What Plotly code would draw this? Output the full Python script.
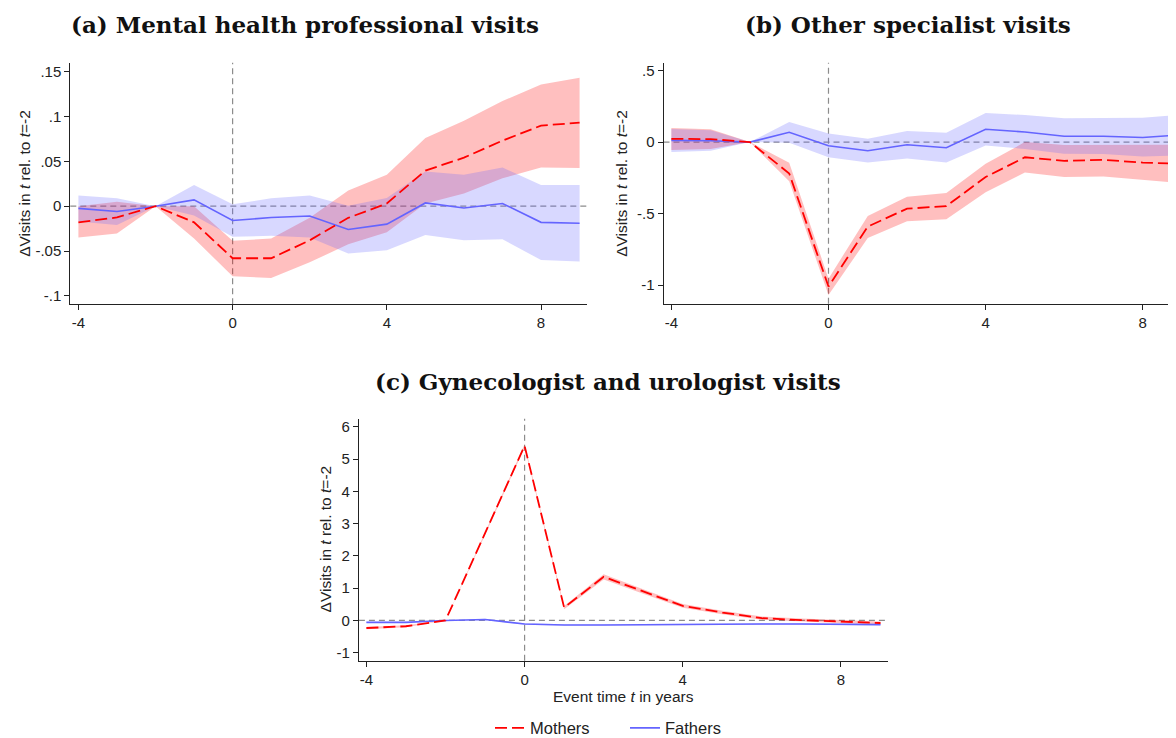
import plotly.graph_objects as go

W, H = 1176, 738

t = [-4, -3, -2, -1, 0, 1, 2, 3, 4, 5, 6, 7, 8, 9]

# Panel (a): Mental health professional visits
a_m = [-0.018, -0.0125, 0.0, -0.018, -0.058, -0.058, -0.038, -0.013, 0.003, 0.0396, 0.054, 0.073, 0.0897, 0.093]
a_m_lo = [-0.035, -0.0305, 0.0, -0.036, -0.078, -0.080, -0.0625, -0.0425, -0.029, 0.003, 0.014, 0.031, 0.043, 0.0425]
a_m_hi = [0.0, 0.005, 0.0, 0.0, -0.0385, -0.036, -0.013, 0.0174, 0.035, 0.076, 0.095, 0.117, 0.1355, 0.143]
a_f = [-0.0025, -0.006, 0.0, 0.007, -0.016, -0.0127, -0.011, -0.026, -0.020, 0.0036, -0.002, 0.003, -0.018, -0.019]
a_f_lo = [-0.017, -0.021, 0.0, -0.0105, -0.034, -0.033, -0.035, -0.0527, -0.049, -0.032, -0.038, -0.0367, -0.060, -0.0617]
a_f_hi = [0.012, 0.0087, 0.0, 0.0236, 0.002, 0.0087, 0.012, 0.0004, 0.009, 0.0385, 0.035, 0.043, 0.0236, 0.0236]

# Panel (b): Other specialist visits
b_m = [0.023, 0.021, 0.0, -0.219, -1.009, -0.59, -0.465, -0.447, -0.244, -0.106, -0.131, -0.124, -0.143, -0.152]
b_m_lo = [-0.055, -0.048, 0.0, -0.274, -1.069, -0.67, -0.553, -0.539, -0.35, -0.212, -0.244, -0.24, -0.263, -0.286]
b_m_hi = [0.099, 0.09, 0.0, -0.145, -0.954, -0.516, -0.382, -0.355, -0.152, 0.0, -0.02, -0.02, -0.023, -0.018]
b_f = [0.012, 0.009, 0.0, 0.069, -0.025, -0.06, -0.018, -0.039, 0.09, 0.071, 0.041, 0.041, 0.032, 0.051]
b_f_lo = [-0.069, -0.06, 0.0, -0.005, -0.106, -0.143, -0.115, -0.143, -0.023, -0.048, -0.081, -0.083, -0.1, -0.092]
b_f_hi = [0.092, 0.083, 0.0, 0.14, 0.06, 0.023, 0.078, 0.065, 0.203, 0.189, 0.166, 0.17, 0.17, 0.191]

# Panel (c): Gynecologist and urologist visits
c_m = [-0.235, -0.18, 0.0, 2.7, 5.41, 0.40, 1.35, 0.9, 0.45, 0.245, 0.07, 0.01, -0.03, -0.08]
c_m_lo = [-0.27, -0.21, 0.0, 2.65, 5.36, 0.35, 1.27, 0.83, 0.39, 0.19, 0.02, -0.04, -0.08, -0.13]
c_m_hi = [-0.20, -0.15, 0.0, 2.75, 5.46, 0.45, 1.43, 0.97, 0.51, 0.30, 0.12, 0.06, 0.02, -0.03]
c_f = [-0.06, -0.06, 0.0, 0.03, -0.11, -0.14, -0.14, -0.13, -0.11, -0.11, -0.11, -0.11, -0.11, -0.13]
c_f_lo = [-0.08, -0.08, 0.0, 0.01, -0.13, -0.16, -0.16, -0.15, -0.13, -0.13, -0.13, -0.13, -0.13, -0.15]
c_f_hi = [-0.04, -0.04, 0.0, 0.05, -0.09, -0.12, -0.12, -0.11, -0.09, -0.09, -0.09, -0.09, -0.09, -0.11]

x_ticks = [-4, 0, 4, 8]
x_labels = ["-4", "0", "4", "8"]
a_yticks = [-0.1, -0.05, 0, 0.05, 0.1, 0.15]
a_ylabels = ["-.1", "-.05", "0", ".05", ".1", ".15"]
b_yticks = [-1, -0.5, 0, 0.5]
b_ylabels = ["-1", "-.5", "0", ".5"]
c_yticks = [-1, 0, 1, 2, 3, 4, 5, 6]
c_ylabels = ["-1", "0", "1", "2", "3", "4", "5", "6"]

titles = ["(a) Mental health professional visits", "(b) Other specialist visits",
          "(c) Gynecologist and urologist visits"]
ytitle = "ΔVisits in <i>t</i> rel. to <i>t</i>=-2"
xtitle = "Event time <i>t</i> in years"

RED = "#FF0000"
BLUE = "#6464FF"
RED_BAND = "rgba(255,0,0,0.25)"
BLUE_BAND = "rgba(100,100,255,0.25)"
SANS = "Liberation Sans, Arial, sans-serif"

fig = go.Figure()

panels = [
    ("x", "y", a_m, a_m_lo, a_m_hi, a_f, a_f_lo, a_f_hi),
    ("x2", "y2", b_m, b_m_lo, b_m_hi, b_f, b_f_lo, b_f_hi),
    ("x3", "y3", c_m, c_m_lo, c_m_hi, c_f, c_f_lo, c_f_hi),
]

for i, (xa, ya, m, mlo, mhi, f, flo, fhi) in enumerate(panels):
    fig.add_trace(go.Scatter(x=t + t[::-1], y=mhi + mlo[::-1], fill="toself",
                             fillcolor=RED_BAND, line=dict(width=0), mode="lines",
                             hoverinfo="skip", showlegend=False, xaxis=xa, yaxis=ya))
    fig.add_trace(go.Scatter(x=t + t[::-1], y=fhi + flo[::-1], fill="toself",
                             fillcolor=BLUE_BAND, line=dict(width=0), mode="lines",
                             hoverinfo="skip", showlegend=False, xaxis=xa, yaxis=ya))
    fig.add_trace(go.Scatter(x=t, y=f, mode="lines", name="Fathers",
                             line=dict(color=BLUE, width=1.6), legendrank=2,
                             showlegend=(i == 0), xaxis=xa, yaxis=ya))
    fig.add_trace(go.Scatter(x=t, y=m, mode="lines", name="Mothers",
                             line=dict(color=RED, width=1.8, dash="12px,5px"), legendrank=1,
                             showlegend=(i == 0), xaxis=xa, yaxis=ya))


def px_dom_x(l, r):
    return [l / W, min(r / W, 1.0)]


def px_dom_y(top, bottom):
    return [1 - bottom / H, 1 - top / H]


axis_common = dict(showline=True, linecolor="#222", linewidth=1, ticks="outside",
                   ticklen=5, tickcolor="#222", showgrid=False, zeroline=False,
                   tickfont=dict(family=SANS, size=15, color="#222"))

layout_axes = {
    "xaxis": dict(domain=px_dom_x(62.3, 579.3), range=[-4.21, 9.2], anchor="y",
                  tickvals=x_ticks, ticktext=x_labels, **axis_common),
    "yaxis": dict(domain=px_dom_y(55.5, 300), range=[-0.1093, 0.1596], anchor="x",
                  tickvals=a_yticks, ticktext=a_ylabels, **axis_common),
    "xaxis2": dict(domain=px_dom_x(655.5, 1176), range=[-4.2, 9.05], anchor="y2",
                   tickvals=x_ticks, ticktext=x_labels, **axis_common),
    "yaxis2": dict(domain=px_dom_y(55.5, 299.5), range=[-1.13, 0.554], anchor="x2",
                   tickvals=b_yticks, ticktext=b_ylabels, **axis_common),
    "xaxis3": dict(domain=px_dom_x(350.9, 880), range=[-4.19, 9.19], anchor="y3",
                   tickvals=x_ticks, ticktext=x_labels, **axis_common),
    "yaxis3": dict(domain=px_dom_y(415.7, 660.7), range=[-1.246, 6.254], anchor="x3",
                   tickvals=c_yticks, ticktext=c_ylabels, **axis_common),
}

shapes = []
for xa, ya in [("x", "y"), ("x2", "y2"), ("x3", "y3")]:
    shapes.append(dict(type="line", xref=xa, yref=ya + " domain", x0=0, x1=0, y0=0, y1=1,
                       line=dict(color="#8c8c8c", width=1.2, dash="6px,4px"), layer="below"))
    shapes.append(dict(type="line", xref=xa + " domain", yref=ya, x0=0, x1=1, y0=0, y1=0,
                       line=dict(color="#8c8c8c", width=1.2, dash="6px,4px"), layer="below"))

annotations = []
title_font = dict(family="DejaVu Serif, serif", size=23, color="#111")
for txt, cx, cy in [(titles[0], 297, 17), (titles[1], 900, 17), (titles[2], 600, 378)]:
    annotations.append(dict(text="<b>" + txt + "</b>", x=cx / W, y=1 - cy / H, xref="paper",
                            yref="paper", xanchor="center", yanchor="middle", showarrow=False,
                            font=title_font))
for cx, cy in [(17, 178), (614, 178), (317, 538)]:
    annotations.append(dict(text=ytitle, x=cx / W, y=1 - cy / H, xref="paper", yref="paper",
                            xanchor="center", yanchor="middle", textangle=-90, showarrow=False,
                            font=dict(family=SANS, size=15.5, color="#222")))
annotations.append(dict(text=xtitle, x=615 / W, y=1 - 697 / H, xref="paper", yref="paper",
                        xanchor="center", yanchor="middle", showarrow=False,
                        font=dict(family=SANS, size=15.5, color="#222")))

fig.update_layout(
    width=W, height=H, margin=dict(l=0, r=0, t=0, b=0),
    paper_bgcolor="white", plot_bgcolor="white",
    shapes=shapes, annotations=annotations,
    legend=dict(orientation="h", x=482 / W, y=1 - 729 / H, xanchor="left", yanchor="middle",
                font=dict(family=SANS, size=16.5, color="#222"), traceorder="normal",
                entrywidth=90, entrywidthmode="pixels", bgcolor="rgba(0,0,0,0)"),
    showlegend=True,
    **layout_axes,
)

fig.write_html("out.html")
